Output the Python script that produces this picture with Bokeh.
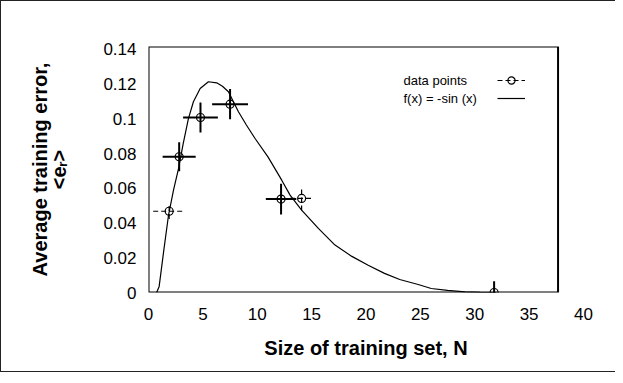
from bokeh.plotting import figure
from bokeh.models import (Range1d, FixedTicker, Label, Legend, LegendItem,
                          ColumnDataSource)
from bokeh.embed import file_html
from bokeh.resources import INLINE

# ---- data ----
curve_x = [0.75, 0.98, 1.4, 1.84, 2.3, 2.76, 3.2, 3.67, 4.13, 4.75, 5.51, 6.27,
           6.8, 7.35, 8.27, 9.0, 9.8, 11.0, 12.25, 13.02, 14.08, 15.62, 17.15,
           18.7, 20.2, 21.7, 23.1, 24.8, 26.0, 27.5, 29.1, 30.5, 32.0]
curve_y = [0.0, 0.0035, 0.024, 0.0445, 0.059, 0.0714, 0.086, 0.1002, 0.1099,
           0.1175, 0.1214, 0.1208, 0.1188, 0.1156, 0.1041, 0.0965, 0.0887,
           0.078, 0.0647, 0.0561, 0.0474, 0.0369, 0.0273, 0.0208, 0.0157,
           0.011, 0.0075, 0.0046, 0.0023, 0.0012, 0.0004, 0.0001, 0.0]

point_x = [1.90, 2.82, 4.78, 7.50, 12.19, 14.08, 31.78]
point_y = [0.0468, 0.0782, 0.1008, 0.1085, 0.0538, 0.0542, 0.0]
point_xerr = [1.47, 1.52, 1.60, 1.65, 1.40, 1.07, 0.0]
point_yerr = [0.0045, 0.0084, 0.0086, 0.0087, 0.0089, 0.0069, 0.0065]
point_dashed = [True, False, False, False, False, True, False]

x_ticks = [0, 5, 10, 15, 20, 25, 30, 35, 40]
y_ticks = [0, 0.02, 0.04, 0.06, 0.08, 0.1, 0.12, 0.14]
y_tick_labels = ["0", "0.02", "0.04", "0.06", "0.08", "0.1", "0.12", "0.14"]

x_title = "Size of training set, N"
y_title_lines = ["Average training error,", "<e\u1d63>"]
legend_labels = ["data points", "f(x) = -sin (x)"]

FONT = "Liberation Sans"
X_MAX, BOX_X_MAX, Y_MAX = 40, 37.66, 0.1417

p = figure(width=615, height=372, output_backend="svg", toolbar_location=None,
           x_range=Range1d(0, X_MAX), y_range=Range1d(0, Y_MAX),
           min_border_left=147, min_border_right=33, min_border_top=45,
           min_border_bottom=81)
p.styles = {"border-style": "solid", "border-color": "#222",
            "border-width": "1px 0px 1px 1px"}
p.grid.visible = False
p.outline_line_color = None
p.background_fill_color = "white"
p.border_fill_color = "white"

# plot box (ends before the last tick, as in the original)
p.quad(left=[0], right=[BOX_X_MAX], bottom=[0], top=[Y_MAX], fill_alpha=0,
       line_color="black", line_width=2)

for ax in (p.xaxis[0], p.yaxis[0]):
    ax.axis_line_color = None
    ax.major_tick_line_color = None
    ax.minor_tick_line_color = None
    ax.major_tick_out = 0
    ax.major_tick_in = 0
    ax.major_label_text_font = FONT
    ax.major_label_text_font_size = "17px"
    ax.major_label_text_color = "black"
    ax.axis_label_text_font = FONT
    ax.axis_label_text_font_size = "20px"
    ax.axis_label_text_font_style = "bold"
    ax.axis_label_text_color = "black"

p.xaxis.ticker = FixedTicker(ticks=x_ticks)
p.xaxis.major_label_standoff = 15
p.xaxis.axis_label = x_title
p.xaxis.axis_label_standoff = 14

p.yaxis.ticker = FixedTicker(ticks=y_ticks)
p.yaxis.major_label_overrides = {t: s for t, s in zip(y_ticks, y_tick_labels)}
p.yaxis.major_label_standoff = 12
p.yaxis.axis_label = "\n".join(y_title_lines)
p.yaxis.axis_label_text_line_height = 0.9
p.yaxis.axis_label_standoff = 30

# curve
curve = p.line(curve_x, curve_y, line_color="black", line_width=1.2)

# error bars
def bars(dashed):
    idx = [i for i, d in enumerate(point_dashed) if d == dashed]
    return ColumnDataSource(dict(
        x=[point_x[i] for i in idx], y=[point_y[i] for i in idx],
        xl=[point_x[i] - point_xerr[i] for i in idx],
        xr=[point_x[i] + point_xerr[i] for i in idx],
        yl=[point_y[i] - point_yerr[i] for i in idx],
        yh=[point_y[i] + point_yerr[i] for i in idx]))

s_solid = bars(False)
s_dash = bars(True)
p.segment("xl", "y", "xr", "y", source=s_solid, line_color="black", line_width=2)
p.segment("x", "yl", "x", "yh", source=s_solid, line_color="black", line_width=2)
dash_h = p.segment("xl", "y", "xr", "y", source=s_dash, line_color="black",
                   line_width=1.2, line_dash="5 3")
p.segment("x", "yl", "x", "yh", source=s_dash, line_color="black",
          line_width=1.2, line_dash="5 3")
pts = p.scatter(point_x, point_y, marker="circle", size=8, fill_alpha=0,
                line_color="black", line_width=1.2)

# legend: samples on the right, texts as labels on the left
legend = Legend(items=[LegendItem(label=" ", renderers=[dash_h, pts]),
                       LegendItem(label=" ", renderers=[curve])],
                location=(349, 185), padding=0, margin=0, spacing=0,
                glyph_width=28, glyph_height=18, label_height=18,
                label_standoff=0, label_text_font_size="8px",
                border_line_alpha=0, background_fill_alpha=0)
p.add_layout(legend)
for i, t in enumerate(legend_labels):
    p.add_layout(Label(x=255, y=212 - 18 * i, x_units="screen", y_units="screen",
                       text=t, text_baseline="middle", text_font=FONT,
                       text_font_size="13px", text_color="black"))

open("out.html", "w").write(file_html(p, INLINE))
